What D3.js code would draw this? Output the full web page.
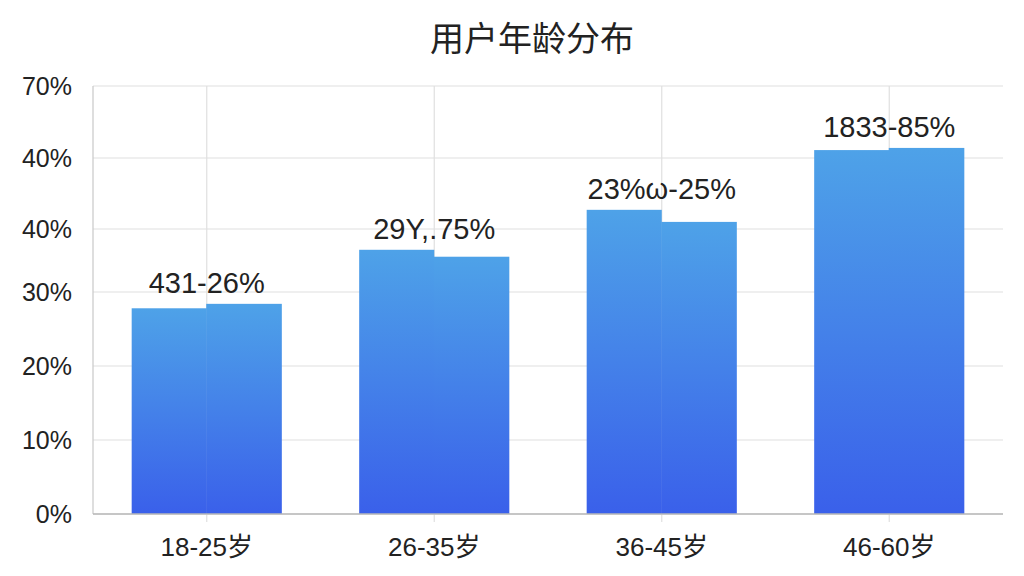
<!DOCTYPE html>
<html lang="zh">
	<head>
		<meta charset="UTF-8">
		<title>用户年龄分布</title>
		<script src="https://d3js.org/d3.v7.min.js"></script>
		<style>
			body { margin: 0; background: #fff; }
			text { font-family: "Liberation Sans", "Noto Sans CJK SC", sans-serif; fill: #222; }
		</style>
	</head>
	<body>
		<script>
			var categories = ['18-25岁', '26-35岁', '36-45岁', '46-60岁'];
			// each bar has a slightly uneven top: left half / right half
			var leftValues = [27.8, 36.7, 42.7, 51.1];
			var rightValues = [28.4, 35.6, 41.0, 51.4];
			var valueLabels = ['431-26%', '29Y,.75%', '23%ω-25%', '1833-85%'];
			var tickValues = [0, 10, 20, 30, 40, 50, 60];
			var tickLabels = ['0%', '10%', '20%', '30%', '40%', '40%', '70%'];

			var width = 1024, height = 576;
			var plotLeft = 93, plotRight = 1003, plotTop = 86, plotBottom = 514;

			var svg = d3.select('body')
						.append('svg')
						.attr('width', width)
						.attr('height', height);

			var grad = svg.append('defs').append('linearGradient')
						.attr('id', 'barGrad')
						.attr('x1', 0).attr('y1', 0)
						.attr('x2', 0).attr('y2', 1);
			grad.append('stop').attr('offset', '0%').attr('stop-color', '#4ea2e8');
			grad.append('stop').attr('offset', '100%').attr('stop-color', '#3a60ea');

			var xScale = d3.scaleBand()
						.domain(categories)
						.range([plotLeft, plotRight])
						.paddingInner(0.34)
						.paddingOuter(0.17);

			// uneven tick spacing in the original, so the scale is piecewise
			var yScale = d3.scaleLinear()
						.domain(tickValues)
						.range([plotBottom, 440, 366, 292, 229, 158, plotTop]);

			// horizontal grid
			svg.append('g')
				.selectAll('line')
				.data(tickValues)
				.enter()
					.append('line')
					.attr('x1', plotLeft)
					.attr('x2', plotRight)
					.attr('y1', function(d) { return yScale(d); })
					.attr('y2', function(d) { return yScale(d); })
					.attr('stroke', '#e0e0e0')
					.attr('stroke-width', 1.2);

			// vertical grid at band centers
			svg.append('g')
				.selectAll('line')
				.data(categories)
				.enter()
					.append('line')
					.attr('x1', function(d) { return xScale(d) + xScale.bandwidth() / 2; })
					.attr('x2', function(d) { return xScale(d) + xScale.bandwidth() / 2; })
					.attr('y1', plotTop)
					.attr('y2', plotBottom + 8)
					.attr('stroke', '#e0e0e0')
					.attr('stroke-width', 1.2);

			// bars, drawn as two halves
			var bars = svg.append('g')
						.selectAll('g')
						.data(categories)
						.enter()
							.append('g');

			bars.append('rect')
				.attr('x', function(d) { return xScale(d); })
				.attr('y', function(d, i) { return yScale(leftValues[i]); })
				.attr('width', xScale.bandwidth() / 2)
				.attr('height', function(d, i) { return yScale(0) - yScale(leftValues[i]); })
				.attr('fill', 'url(#barGrad)');

			bars.append('rect')
				.attr('x', function(d) { return xScale(d) + xScale.bandwidth() / 2 - 0.5; })
				.attr('y', function(d, i) { return yScale(rightValues[i]); })
				.attr('width', xScale.bandwidth() / 2 + 0.5)
				.attr('height', function(d, i) { return yScale(0) - yScale(rightValues[i]); })
				.attr('fill', 'url(#barGrad)');

			bars.append('text')
				.attr('x', function(d) { return xScale(d) + xScale.bandwidth() / 2; })
				.attr('y', function(d, i) { return yScale(Math.max(leftValues[i], rightValues[i])) - 11; })
				.attr('text-anchor', 'middle')
				.attr('font-size', 29)
				.text(function(d, i) { return valueLabels[i]; });

			// axis lines
			svg.append('line')
				.attr('x1', plotLeft).attr('x2', plotLeft)
				.attr('y1', plotTop).attr('y2', plotBottom)
				.attr('stroke', '#c8c8c8').attr('stroke-width', 1.2);
			svg.append('line')
				.attr('x1', plotLeft).attr('x2', plotRight)
				.attr('y1', plotBottom).attr('y2', plotBottom)
				.attr('stroke', '#b8b8b8').attr('stroke-width', 1.5);

			// y tick labels
			svg.append('g')
				.selectAll('text')
				.data(tickValues)
				.enter()
					.append('text')
					.attr('x', 72)
					.attr('y', function(d) { return yScale(d); })
					.attr('dy', '0.35em')
					.attr('text-anchor', 'end')
					.attr('font-size', 25)
					.text(function(d, i) { return tickLabels[i]; });

			// x tick labels
			svg.append('g')
				.selectAll('text')
				.data(categories)
				.enter()
					.append('text')
					.attr('x', function(d) { return xScale(d) + xScale.bandwidth() / 2; })
					.attr('y', 556)
					.attr('text-anchor', 'middle')
					.attr('font-size', 26)
					.text(function(d) { return d; });

			svg.append('text')
				.attr('x', 532)
				.attr('y', 51)
				.attr('text-anchor', 'middle')
				.attr('font-size', 34)
				.text('用户年龄分布');
		</script>
	</body>
</html>
